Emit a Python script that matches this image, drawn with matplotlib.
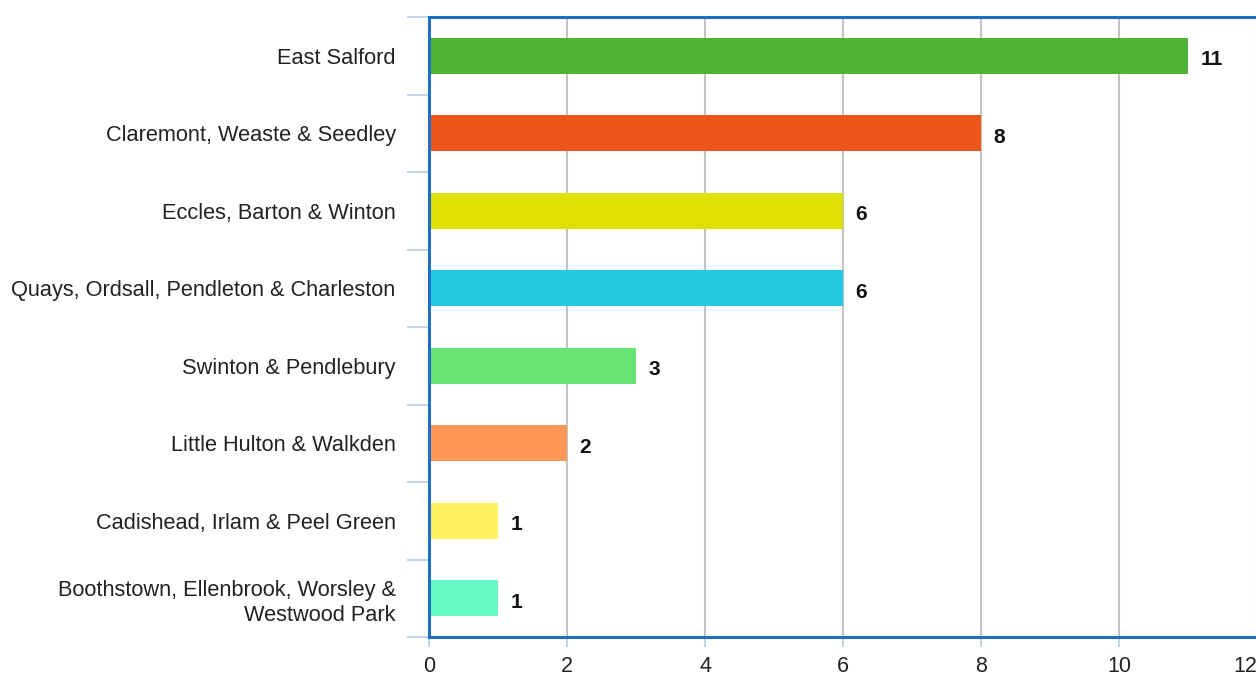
import matplotlib.pyplot as plt
import numpy as np

plt.rcParams['font.family'] = ['Liberation Sans', 'DejaVu Sans']

areas = [
    "East Salford",
    "Claremont, Weaste & Seedley",
    "Eccles, Barton & Winton",
    "Quays, Ordsall, Pendleton & Charleston",
    "Swinton & Pendlebury",
    "Little Hulton & Walkden",
    "Cadishead, Irlam & Peel Green",
    "Boothstown, Ellenbrook, Worsley &\nWestwood Park",
]
counts = [11, 8, 6, 6, 3, 2, 1, 1]
colors = ["#4fb233", "#eb561d", "#dde000", "#22c9e3",
          "#66e373", "#fe9657", "#fef160", "#66f9c3"]
xticks = [0, 2, 4, 6, 8, 10, 12]

W, H = 1256, 677
fig = plt.figure(figsize=(W / 100, H / 100), dpi=100)
ax = fig.add_axes([429 / W, 1 - 637 / H, (W - 429 + 1) / W, (637 - 17) / H])

y = np.arange(len(areas))
ax.barh(y, counts, height=0.47, color=colors, zorder=3)
for yi, v in zip(y, counts):
    ax.annotate(str(v), (v, yi), xytext=(9, -3), textcoords='offset points',
                va='center', ha='left', fontsize=15, fontweight='bold',
                color='#111111')

ax.set_ylim(len(areas) - 0.5, -0.5)
ax.set_xlim(0, 12)

ax.set_yticks(y)
ax.set_yticklabels(areas, fontsize=15.7, color='#222222', linespacing=1.25)
ax.set_yticks(np.arange(len(areas) + 1) - 0.5, minor=True)
ax.tick_params(axis='y', which='major', length=0, pad=24)
ax.tick_params(axis='y', which='minor', length=16, width=1.2, color='#b8cce4')

ax.set_xticks(xticks)
ax.tick_params(axis='x', which='major', length=7, width=1.2, color='#b8cce4',
               labelsize=15.5, labelcolor='#222222', pad=7)
# last label sits at the figure edge, keep it inside
ax.get_xticklabels()[-1].set_horizontalalignment('right')

ax.grid(axis='x', color='#c4c4c4', linewidth=1.5, zorder=0)
ax.set_axisbelow(True)

for side in ['left', 'top', 'bottom']:
    ax.spines[side].set_color('#1f6fc5')
    ax.spines[side].set_linewidth(2.2)
    ax.spines[side].set_zorder(4)
ax.spines['right'].set_visible(False)

fig.savefig('out.png', dpi=100)
